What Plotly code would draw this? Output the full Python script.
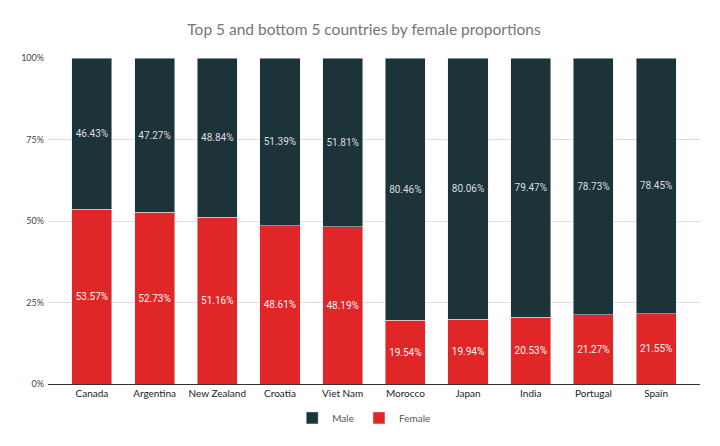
import plotly.graph_objects as go

countries = ["Canada", "Argentina", "New Zealand", "Croatia", "Viet Nam",
             "Morocco", "Japan", "India", "Portugal", "Spain"]
female = [53.57, 52.73, 51.16, 48.61, 48.19, 19.54, 19.94, 20.53, 21.27, 21.55]
male = [46.43, 47.27, 48.84, 51.39, 51.81, 80.46, 80.06, 79.47, 78.73, 78.45]
tick_vals = [0, 25, 50, 75, 100]
tick_text = ["0%", "25%", "50%", "75%", "100%"]

fig = go.Figure()
fig.add_trace(go.Bar(
    x=countries, y=female, name="Female", marker_color="#e12627",
    text=[f"{v:.2f}%" for v in female], textposition="inside",
    insidetextanchor="middle", textfont=dict(color="#f4f4f4", size=10, family="Roboto"),
    hoverinfo="skip",
))
fig.add_trace(go.Bar(
    x=countries, y=male, name="Male", marker_color="#1c333a",
    text=[f"{v:.2f}%" for v in male], textposition="inside",
    insidetextanchor="middle", textfont=dict(color="#dddddd", size=10, family="Roboto"),
    hoverinfo="skip",
))

fig.update_layout(
    barmode="stack",
    bargap=0.36,
    width=712, height=438,
    margin=dict(l=40, r=20, t=50, b=62),
    paper_bgcolor="white", plot_bgcolor="white",
    title=dict(text="Top 5 and bottom 5 countries by female proportions",
               x=0.5, xanchor="center", y=0.95, yanchor="middle",
               font=dict(family="Lato", size=15.5, color="#757575")),
    font=dict(family="Lato", size=10, color="#333333"),
    legend=dict(orientation="h", x=0.485, xanchor="center", y=-0.104, yanchor="middle",
                traceorder="reversed", font=dict(size=10, color="#555555")),
    uniformtext=dict(minsize=8),
)
fig.update_xaxes(range=[-0.7, 9.7], showgrid=False, showline=True,
                 linecolor="#333333", linewidth=1, ticks="",
                 tickfont=dict(size=10, color="#222222"))
fig.update_yaxes(range=[0, 100], tickvals=tick_vals, ticktext=tick_text,
                 showgrid=True, gridcolor="#dddddd", zeroline=False,
                 tickfont=dict(size=9, color="#444444"), ticks="",
                 ticklabelstandoff=3)

fig.write_html("out.html")
